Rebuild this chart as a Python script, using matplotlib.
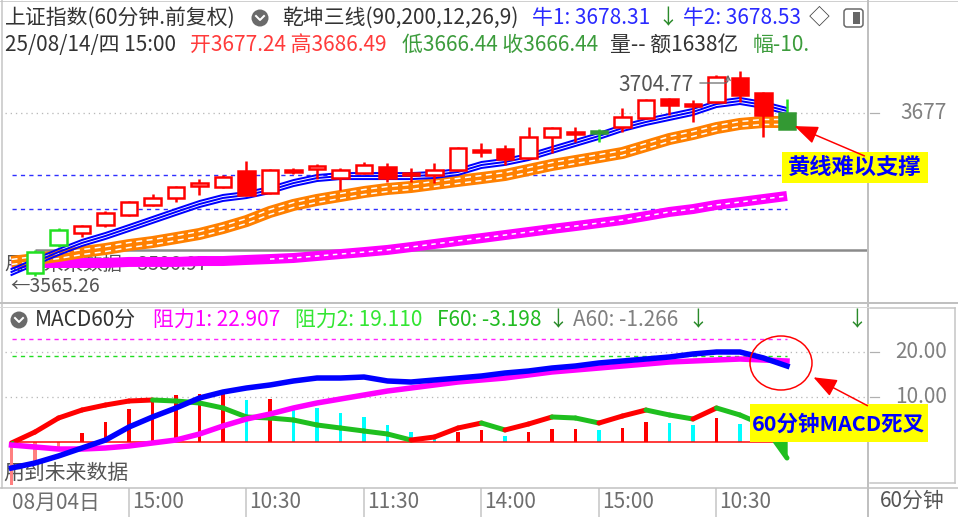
import numpy as np
import matplotlib
matplotlib.use("Agg")
import matplotlib.pyplot as plt
from matplotlib.patches import Rectangle, Circle, Ellipse, FancyArrowPatch, FancyBboxPatch
from matplotlib.collections import LineCollection
from matplotlib.lines import Line2D
from matplotlib.transforms import offset_copy

plt.rcParams['font.family'] = ['Noto Sans CJK SC', 'DejaVu Sans']

W, H, DPI = 958, 517, 100
FS = 15

# ---------------- data ----------------
bars = np.arange(-1, 33)          # bar index (line series)
candles = np.arange(0, 33)        # bars that show a candle

opens = [3571.7, 3590.1, 3598.0, 3603.3, 3609.9, 3616.5, 3621.1, 3629.0, 3628.3, 3638.8,
         3624.4, 3638.2, 3640.2, 3634.2, 3637.5, 3641.5, 3636.9, 3636.2, 3639.5, 3651.3,
         3653.3, 3647.4, 3661.2, 3663.2, 3665.2, 3667.8, 3673.7, 3686.2, 3681.6, 3684.2,
         3700.0, 3690.2, 3677.24]
highs = [3586.9, 3601.3, 3603.0, 3612.5, 3619.0, 3623.7, 3628.8, 3633.6, 3636.2, 3645.4,
         3640.0, 3640.8, 3643.4, 3640.8, 3644.8, 3644.1, 3640.8, 3644.1, 3654.5, 3657.3,
         3655.9, 3667.8, 3667.8, 3667.8, 3666.5, 3680.3, 3686.0, 3686.6, 3685.6, 3702.0,
         3704.77, 3690.6, 3686.49]
lows = [3569.7, 3588.8, 3595.4, 3602.0, 3609.3, 3616.0, 3618.4, 3623.0, 3627.8, 3622.5,
        3623.9, 3636.9, 3633.6, 3626.3, 3637.0, 3631.6, 3631.6, 3630.9, 3639.0, 3648.0,
        3642.8, 3647.0, 3650.7, 3657.9, 3657.9, 3664.5, 3673.3, 3675.7, 3671.1, 3683.8,
        3684.2, 3661.2, 3666.44]
closes = [3585.5, 3600.0, 3602.6, 3611.2, 3618.4, 3621.1, 3628.3, 3630.9, 3634.9, 3623.0,
          3639.5, 3639.5, 3640.8, 3639.5, 3642.8, 3634.2, 3636.2, 3639.5, 3654.0, 3652.7,
          3646.7, 3661.2, 3667.1, 3664.5, 3663.8, 3674.4, 3685.6, 3682.3, 3682.9, 3700.7,
          3688.8, 3675.7, 3666.44]
green_bars = [0, 1, 24, 32]

blue_line = [3572.4, 3579.0, 3585.5, 3591.5, 3596.1, 3601.3, 3606.6, 3611.9, 3617.1, 3621.1,
             3623.0, 3626.3, 3630.9, 3634.2, 3635.5, 3635.5, 3635.5, 3635.5, 3636.2, 3638.2,
             3642.8, 3644.8, 3648.0, 3652.7, 3657.3, 3661.9, 3667.1, 3671.1, 3674.4, 3677.7,
             3682.9, 3684.9, 3682.3, 3678.3]
orange_line = [3579.0, 3580.9, 3582.9, 3585.5, 3587.5, 3590.1, 3592.1, 3594.7, 3597.4, 3601.3,
               3605.9, 3611.9, 3616.5, 3619.8, 3622.4, 3625.0, 3627.0, 3628.3, 3630.3, 3632.3,
               3634.2, 3636.2, 3639.5, 3642.8, 3645.4, 3648.0, 3650.7, 3655.3, 3659.9, 3663.2,
               3667.1, 3669.8, 3671.1, 3671.1]
pink_line = [3578.3, 3578.3, 3578.3, 3578.3, 3578.3, 3579.0, 3579.0, 3579.0, 3579.6, 3579.6,
             3580.3, 3580.9, 3581.6, 3582.9, 3584.2, 3585.5, 3586.9, 3588.8, 3590.8, 3592.8,
             3594.7, 3596.7, 3598.7, 3600.7, 3602.6, 3604.6, 3606.6, 3609.2, 3611.9, 3613.8,
             3616.5, 3618.4, 3620.4, 3622.4]
ref_price = 3586.97
dash_levels = [3636.2, 3613.8]
last_price = 3677
high_mark = 3704.77
low_mark = 3565.26

dif = [-5.78, -4.67, -3.11, -1.33, 0.44, 3.33, 5.56, 7.56, 9.78, 11.11,
       12.0, 12.67, 13.56, 14.22, 14.22, 14.44, 13.56, 13.33, 13.78, 14.22,
       14.67, 15.33, 15.78, 16.44, 16.89, 17.56, 18.0, 18.44, 18.89, 19.56,
       20.0, 20.0, 18.67, 16.89]
dea = [-0.67, -1.11, -1.56, -1.56, -1.33, -0.89, -0.22, 0.44, 1.78, 3.56,
       5.11, 6.22, 7.56, 8.67, 9.56, 10.44, 11.33, 12.0, 12.67, 13.33,
       13.78, 14.22, 14.89, 15.56, 16.0, 16.44, 16.89, 17.33, 17.78, 18.0,
       18.22, 18.44, 18.22, 18.0]
hist = [-9.56, -4.44, -1.11, 2.0, 4.44, 7.33, 9.33, 10.44, 10.67, 11.0,
        9.33, 9.56, 7.78, 7.6, 6.44, 5.56, 3.78, 2.22, 1.33, 2.22,
        2.67, 1.33, 2.22, 2.89, 2.95, 2.67, 3.11, 4.44, 4.22, 3.78,
        5.33, 4.0, 2.67, 0.0]
trend = [-0.22, 2.22, 5.33, 7.11, 8.22, 9.11, 9.33, 9.11, 8.67, 7.56,
         5.56, 5.33, 4.89, 3.78, 3.11, 2.44, 1.78, 0.44, 1.11, 3.11,
         4.22, 2.67, 4.0, 5.56, 5.33, 4.22, 5.78, 7.11, 6.0, 5.11,
         7.56, 6.0, 3.78, -3.56]
resist1 = 22.907
resist2 = 19.110
macd_grid = [20, 10]

tick_pos = [4, 9, 14, 19, 24, 29]
tick_labels = ['15:00', '10:30', '11:30', '14:00', '15:00', '10:30']

# ---------------- helpers ----------------
fig = plt.figure(figsize=(W / DPI, H / DPI), dpi=DPI)
PX = fig.dpi_scale_trans


def P(x, y):
    # picture pixel -> inches from lower left
    return (x / DPI, (H - y) / DPI)


def pw(px):
    return px * 72 / DPI


def rect(x0, y0, x1, y1):
    return [x0 / W, 1 - y1 / H, (x1 - x0) / W, (y1 - y0) / H]


def hline(y, x0, x1, color='#c4c4c4', lw=1.5):
    fig.add_artist(Line2D([x0 / DPI, x1 / DPI], [(H - y) / DPI] * 2, transform=PX,
                          color=color, lw=pw(lw)))


def vline(x, y0, y1, color='#c4c4c4', lw=1.5):
    fig.add_artist(Line2D([x / DPI] * 2, [(H - y0) / DPI, (H - y1) / DPI], transform=PX,
                          color=color, lw=pw(lw)))


def label(x, y, s, color='#333333', size=FS, **kw):
    fig.text(*P(x, y), s, transform=PX, color=color, fontsize=size,
             va='center', ha=kw.pop('ha', 'left'), **kw)


def icon(x, y):
    fig.add_artist(Circle(P(x, y), 0.085, transform=PX, facecolor='#6a6a6a', edgecolor='none'))
    fig.add_artist(Line2D([(x - 4) / DPI, x / DPI, (x + 4) / DPI],
                          [(H - y + 2) / DPI, (H - y - 2) / DPI, (H - y + 2) / DPI],
                          transform=PX, color='white', lw=pw(2)))


X0, X1 = (5 - 35) / 23.5, (868 - 35) / 23.5

# ---------------- price panel ----------------
ax1 = fig.add_axes(rect(5, 50, 868, 302))
ax1.set_xlim(X0, X1)
ax1.set_ylim(3677 - 189 * 0.658, 3677 + 63 * 0.658)
ax1.axis('off')

ax1.text(*P(5, 265), '用到未来数据 - ' + f'{ref_price:.2f}', transform=PX, color='#555555',
         fontsize=14, va='center', zorder=0.5)
ax1.text(*P(10, 287), '←' + f'{low_mark:.2f}', transform=PX, color='#555555',
         fontsize=14, va='center', zorder=0.5)

ax1.axhline(last_price, color='#b8b8b8', lw=pw(1.3), ls=(0, (1, 3)), zorder=1)
ax1.hlines(ref_price, 0, X1, color='#8a8a8a', lw=pw(2.5), zorder=1.5)
ax1.hlines(dash_levels, -1, 32, colors='#2f2fff', lw=pw(1.4), linestyles=(0, (3, 3)), zorder=1.6)

ax1.plot(bars, pink_line, color='#ff00ff', lw=pw(10), solid_capstyle='butt', zorder=2)
ax1.plot(bars[11:], pink_line[11:], color='white', lw=pw(1.5), ls=(0, (3, 3)), zorder=2.1)

ax1.plot(bars, orange_line, color='#ff8000', lw=pw(12), solid_capstyle='butt', zorder=3)
for off in (-2.5, 2.5):
    tr = offset_copy(ax1.transData, fig=fig, x=0, y=off, units='dots')
    ax1.plot(bars, orange_line, color='white', lw=pw(1.5), ls=(0, (4, 3)), transform=tr, zorder=3.1)

for off in (-3, 0, 3):
    tr = offset_copy(ax1.transData, fig=fig, x=0, y=off, units='dots')
    ax1.plot(bars, blue_line, color='#0000ff', lw=pw(2), transform=tr, zorder=4)

cw = 0.72
for i, x in enumerate(candles):
    o, h, l, c = opens[i], highs[i], lows[i], closes[i]
    green = x in green_bars
    col = '#22e022' if green else '#ff0000'
    top, bot = max(o, c), min(o, c)
    hgt = max(top - bot, 1.6)
    if c >= o:
        face, edge = 'white', col
    else:
        face = '#339933' if green else col
        edge = face
    ax1.plot([x, x], [top, h], color=col, lw=pw(2.5), zorder=5, solid_capstyle='butt')
    ax1.plot([x, x], [l, bot], color=col, lw=pw(2.5), zorder=5, solid_capstyle='butt')
    ax1.add_patch(Rectangle((x - cw / 2, bot), cw, hgt, facecolor=face, edgecolor=edge,
                            lw=pw(2.5), zorder=5.1))

label(618, 85, f'{high_mark:.2f}', color='#555555')
fig.add_artist(FancyArrowPatch(P(697, 83), P(728, 72), transform=PX, arrowstyle='->',
                               mutation_scale=8, color='#666666', lw=pw(1.2),
                               connectionstyle='angle,angleA=0,angleB=90,rad=3'))

# ---------------- MACD panel ----------------
ax2 = fig.add_axes(rect(5, 308, 868, 487))
ax2.set_xlim(X0, X1)
ax2.set_ylim(-45 / 4.5, 134 / 4.5)
ax2.axis('off')

ax2.text(*P(3, 473), '用到未来数据', transform=PX, color='#555555', fontsize=FS,
         va='center', zorder=0.5)
for v in macd_grid:
    ax2.axhline(v, color='#b8b8b8', lw=pw(1.3), ls=(0, (1, 3)), zorder=1)
ax2.hlines(resist1, -1, 32, colors='#ff22ff', lw=pw(1.4), linestyles=(0, (3, 3)), zorder=1)
ax2.hlines(resist2, -1, 32, colors='#22dd22', lw=pw(1.4), linestyles=(0, (3, 3)), zorder=1)

cols = []
for k, v in enumerate(hist):
    if v < 0:
        cols.append('#ff8080')
    elif k == 0 or v >= hist[k - 1]:
        cols.append('#ff0000')
    else:
        cols.append('#00ffff')
ax2.bar(bars, hist, width=0.17, color=cols, zorder=2)
ax2.hlines(0, -1, 32, color='#ff0000', lw=pw(1.5), zorder=2.5)

pts = np.column_stack([bars, trend])
segs = np.stack([pts[:-1], pts[1:]], axis=1)
seg_cols = ['#ff0000' if b >= a else '#1fbf1f' for a, b in zip(trend[:-1], trend[1:])]
ax2.add_collection(LineCollection(segs, colors=seg_cols, lw=pw(5), capstyle='round', zorder=3))
tr_arr = np.array(trend)
ax2.fill_between(bars, tr_arr, 0, where=tr_arr < 0, interpolate=True, color='#1fbf1f', zorder=3)

ax2.plot(bars, dea, color='#ff00ff', lw=pw(5.5), zorder=4)
ax2.plot(bars, dif, color='#0000ff', lw=pw(5.5), zorder=5)

# ---------------- x axis row ----------------
ax3 = fig.add_axes(rect(5, 488, 868, 517))
ax3.set_xlim(X0, X1)
ax3.set_ylim(0, 1)
ax3.axis('off')
ax3.vlines(tick_pos, 0, 1, colors='#c4c4c4', lw=pw(1.5))
ax3.annotate('08月04日', (0, 0.5), xycoords='axes fraction', xytext=(pw(7), 0),
             textcoords='offset points', va='center', color='#6e6e6e', fontsize=FS)
for t, lab in zip(tick_pos, tick_labels):
    ax3.annotate(lab, (t, 0.5), xytext=(pw(3), 0), textcoords='offset points',
                 va='center', color='#6e6e6e', fontsize=FS)

# ---------------- frame ----------------
hline(1, 0, 958, '#d0d0d0', 1)
vline(2, 0, 488)
vline(868, 0, 517, '#c0c0c0', 2)
hline(303, 0, 958, '#c0c0c0', 2)
hline(307, 0, 868, '#d8d8d8', 1)
hline(308, 870, 955)
hline(483, 870, 955)
vline(955, 308, 483)
hline(488, 0, 958, '#c0c0c0', 1.5)
for y in (113, 352, 397):
    hline(y, 870, 879, '#b0b0b0', 1.2)

label(900, 113, f'{last_price}', color='#808080')
label(895, 352, '20.00', color='#808080')
label(895, 397, '10.00', color='#808080')
label(880, 501, '60分钟', color='#555555')

# ---------------- headers ----------------
label(5, 18, '上证指数(60分钟.前复权)')
icon(260, 18)
label(282, 18, '乾坤三线(90,200,12,26,9)')
label(532, 18, '牛1: 3678.31', color='#2a2aff')
label(657, 18, '↓', color='#2a8a2a')
label(683, 18, '牛2: 3678.53', color='#2a2aff')
label(809, 18, '◇', color='#444444')
fig.add_artist(FancyBboxPatch(P(844, 27), 0.19, 0.18, transform=PX,
                              boxstyle='round,pad=0,rounding_size=0.03',
                              facecolor='white', edgecolor='#666666', lw=pw(1.5)))
fig.add_artist(Rectangle(P(853, 24), 0.07, 0.12, transform=PX, facecolor='#666666'))

label(5, 45, '25/08/14/四 15:00')
label(190, 45, '开3677.24 高3686.49', color='#ff3b3b')
label(402, 45, '低3666.44 收3666.44', color='#3c9c3c')
label(610, 45, '量-- 额1638亿')
label(753, 45, '幅-10.', color='#3c9c3c')

icon(19, 320)
label(35, 320, 'MACD60分')
label(153, 320, '阻力1: 22.907', color='#ff00ff')
label(295, 320, '阻力2: 19.110', color='#33e633')
label(437, 320, 'F60: -3.198', color='#22bb22')
label(547, 320, '↓', color='#2a8a2a')
label(573, 320, 'A60: -1.266', color='#808080')
label(687, 320, '↓', color='#2a8a2a')
label(846, 320, '↓', color='#2a8a2a')

# ---------------- annotations ----------------
fig.add_artist(Rectangle(P(782, 183), 1.46, 0.31, transform=PX, facecolor='#ffff00',
                         edgecolor='none', zorder=10))
fig.text(*P(855, 168), '黄线难以支撑', transform=PX, color='#0000ff', fontsize=16,
         fontweight='bold', ha='center', va='center', zorder=11)
fig.add_artist(FancyArrowPatch(P(867, 157), P(792, 125), transform=PX,
                               arrowstyle='-|>,head_length=0.9,head_width=0.35',
                               mutation_scale=16, color='#ff0000', lw=pw(1.5), zorder=11))

fig.add_artist(Rectangle(P(750, 442), 1.78, 0.38, transform=PX, facecolor='#ffff00',
                         edgecolor='none', zorder=10))
fig.text(*P(838, 424), '60分钟MACD死叉', transform=PX, color='#0000ff', fontsize=15.5,
         fontweight='bold', ha='center', va='center', zorder=11)
fig.add_artist(Ellipse(P(781, 363), 0.62, 0.54, transform=PX, fill=False,
                       edgecolor='#ff0000', lw=pw(1.5), zorder=11))
fig.add_artist(FancyArrowPatch(P(870, 407), P(811, 376), transform=PX,
                               arrowstyle='-|>,head_length=0.9,head_width=0.35',
                               mutation_scale=16, color='#ff0000', lw=pw(1.5), zorder=11))

fig.savefig('out.png', dpi=DPI, facecolor='white')
